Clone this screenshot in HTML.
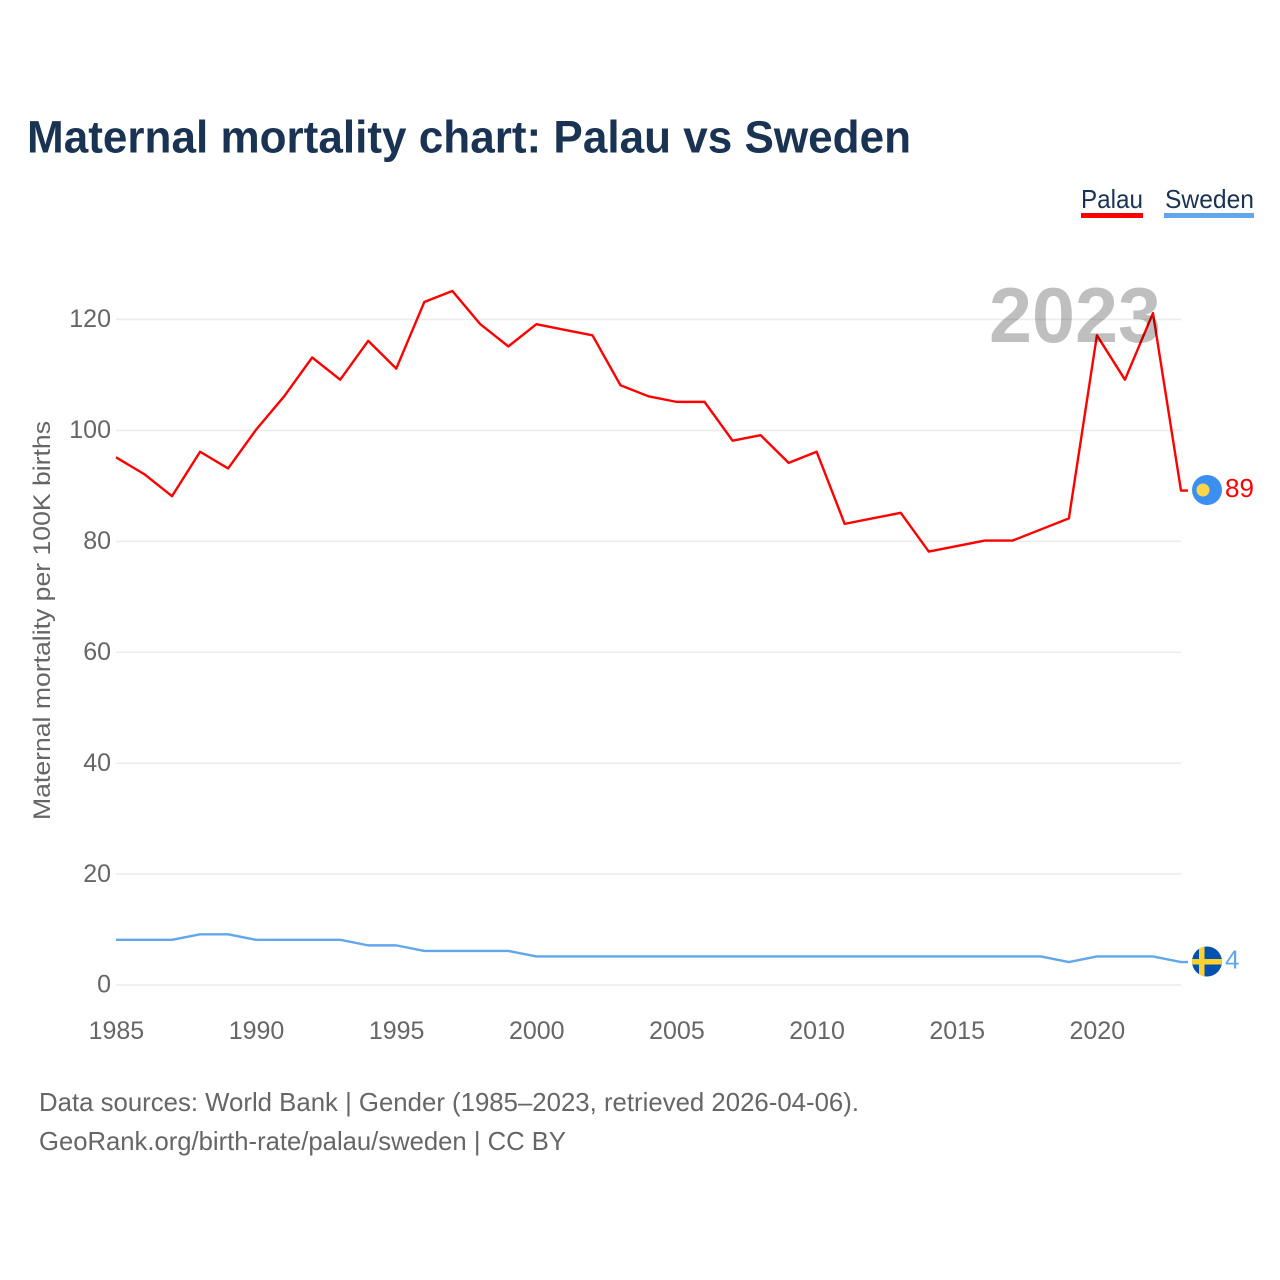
<!DOCTYPE html>
<html lang="en">
<head>
<meta charset="utf-8">
<title>Maternal mortality chart: Palau vs Sweden</title>
<style>
html,body{margin:0;padding:0;background:#fff;width:1280px;height:1280px;overflow:hidden}
svg{display:block;font-family:"Liberation Sans",sans-serif}
</style>
</head>
<body>
<svg id="chart" xmlns="http://www.w3.org/2000/svg" width="1280" height="1280" viewBox="0 0 1280 1280">
  <defs>
    <clipPath id="flag-clip-sweden"><circle id="clip-sweden" r="15"></circle></clipPath>
  </defs>
  <text x="27" y="152.5" font-size="45" font-weight="700" fill="#1a3352" textLength="884" lengthAdjust="spacingAndGlyphs">Maternal mortality chart: Palau vs Sweden</text>

  <g>
    <g>
      <text x="1081" y="208" font-size="26" fill="#1a3352" textLength="62" lengthAdjust="spacingAndGlyphs">Palau</text>
      <rect x="1081" y="213" width="62" height="5" fill="#ff0000"></rect>
    </g>
    <g>
      <text x="1165" y="208" font-size="26" fill="#1a3352" textLength="89" lengthAdjust="spacingAndGlyphs">Sweden</text>
      <rect x="1164" y="213" width="90" height="5" fill="#62a6ec"></rect>
    </g>
  </g>

  <g id="grid"></g>
  <g id="y-ticks"></g>
  <g id="x-ticks"></g>
  <text transform="translate(50,820) rotate(-90)" font-size="24.5" fill="#666666" textLength="399" lengthAdjust="spacingAndGlyphs">Maternal mortality per 100K births</text>

  <g id="series"></g>
  <text id="year-watermark" x="1161" y="342" font-size="78" font-weight="700" fill="#000000" fill-opacity="0.25" text-anchor="end" textLength="172" lengthAdjust="spacingAndGlyphs">2023</text>
  <g id="end-markers"></g>

  <text x="39" y="1111" font-size="26" fill="#666666" textLength="820" lengthAdjust="spacingAndGlyphs">Data sources: World Bank | Gender (1985–2023, retrieved 2026-04-06).</text>
  <text x="39" y="1150" font-size="26" fill="#666666" textLength="527" lengthAdjust="spacingAndGlyphs">GeoRank.org/birth-rate/palau/sweden | CC BY</text>
</svg>
<script>
const years = [1985,1986,1987,1988,1989,1990,1991,1992,1993,1994,1995,1996,1997,1998,1999,2000,2001,2002,2003,2004,2005,2006,2007,2008,2009,2010,2011,2012,2013,2014,2015,2016,2017,2018,2019,2020,2021,2022,2023];
const palauValues = [95,92,88,96,93,100,106,113,109,116,111,123,125,119,115,119,118,117,108,106,105,105,98,99,94,96,83,84,85,78,79,80,80,82,84,117,109,121,89];
const swedenValues = [8,8,8,9,9,8,8,8,8,7,7,6,6,6,6,5,5,5,5,5,5,5,5,5,5,5,5,5,5,5,5,5,5,5,4,5,5,5,4];
const yTickValues = [0,20,40,60,80,100,120];
const xTickValues = [1985,1990,1995,2000,2005,2010,2015,2020];

const NS = 'http://www.w3.org/2000/svg';
const plotLeft = 116, plotRight = 1181, yZero = 985, pxPerUnit = 5.546, seriesShift = 0.8, connectorEnd = 1188;
const xScale = function (year) {
  return plotLeft + (year - years[0]) * (plotRight - plotLeft) / (years[years.length - 1] - years[0]);
};
const yScale = function (value) {
  return yZero - value * pxPerUnit;
};
const ySeries = function (value) {
  return yScale(value) - seriesShift;
};
const make = function (tag, attrs, parent, text) {
  const el = document.createElementNS(NS, tag);
  Object.keys(attrs).forEach(function (k) { el.setAttribute(k, attrs[k]); });
  if (text !== undefined) el.textContent = text;
  parent.appendChild(el);
  return el;
};

const grid = document.getElementById('grid');
const yTicks = document.getElementById('y-ticks');
const xTicks = document.getElementById('x-ticks');
const series = document.getElementById('series');
const markers = document.getElementById('end-markers');

yTickValues.forEach(function (v) {
  const line = make('line', {x1: plotLeft, x2: plotRight, y1: yScale(v), y2: yScale(v), stroke: '#ececec', 'stroke-width': 1.6}, grid);
  
  
  const label = make('text', {x: 111, y: yScale(v) + 7.7, 'font-size': 25, fill: '#666666', 'text-anchor': 'end'}, yTicks, String(v));
  
  
});

xTickValues.forEach(function (v) {
  const label = make('text', {x: xScale(v) + 0.4, y: 1039, 'font-size': 25, fill: '#666666', 'text-anchor': 'middle'}, xTicks, String(v));
  
  
});

const toPoints = function (values) {
  const pts = values.map(function (v, i) { return xScale(years[i]).toFixed(2) + ',' + ySeries(v).toFixed(2); });
  pts.push(connectorEnd + ',' + ySeries(values[values.length - 1]).toFixed(2));
  return pts.join(' ');
};

const swedenLine = make('polyline', {points: toPoints(swedenValues), fill: 'none', stroke: '#62a6ec', 'stroke-width': 2.4, 'stroke-linejoin': 'round'}, series);



const palauLine = make('polyline', {points: toPoints(palauValues), fill: 'none', stroke: '#ff0000', 'stroke-width': 2.4, 'stroke-linejoin': 'round'}, series);



const flagX = 1207;
const palauEnd = palauValues[palauValues.length - 1];
const swedenEnd = swedenValues[swedenValues.length - 1];
const palauY = ySeries(palauEnd);
const swedenY = ySeries(swedenEnd);
const palauFlagY = palauY - 0.6;
const swedenFlagY = swedenY - 0.5;

document.getElementById('clip-sweden').setAttribute('cx', flagX);
document.getElementById('clip-sweden').setAttribute('cy', swedenFlagY);

const palauFlag = make('g', {}, markers);


make('circle', {cx: flagX, cy: palauFlagY, r: 15, fill: '#3a8ff0'}, palauFlag);
make('circle', {cx: flagX - 4, cy: palauFlagY, r: 6.5, fill: '#fdd64a'}, palauFlag);

const palauValueLabel = make('text', {x: 1225, y: palauY + 6.4, 'font-size': 26, fill: '#ff0000'}, markers, String(palauEnd));



const swedenFlag = make('g', {'clip-path': 'url(#flag-clip-sweden)'}, markers);


make('rect', {x: flagX - 15, y: swedenFlagY - 15, width: 30, height: 30, fill: '#0352b0'}, swedenFlag);
make('rect', {x: flagX - 8, y: swedenFlagY - 15, width: 5.5, height: 30, fill: '#fdd22e'}, swedenFlag);
make('rect', {x: flagX - 15, y: swedenFlagY - 2.5, width: 30, height: 5.5, fill: '#fdd22e'}, swedenFlag);

const swedenValueLabel = make('text', {x: 1225, y: swedenY + 6.5, 'font-size': 26, fill: '#62a6ec'}, markers, String(swedenEnd));


</script>
</body>
</html>
